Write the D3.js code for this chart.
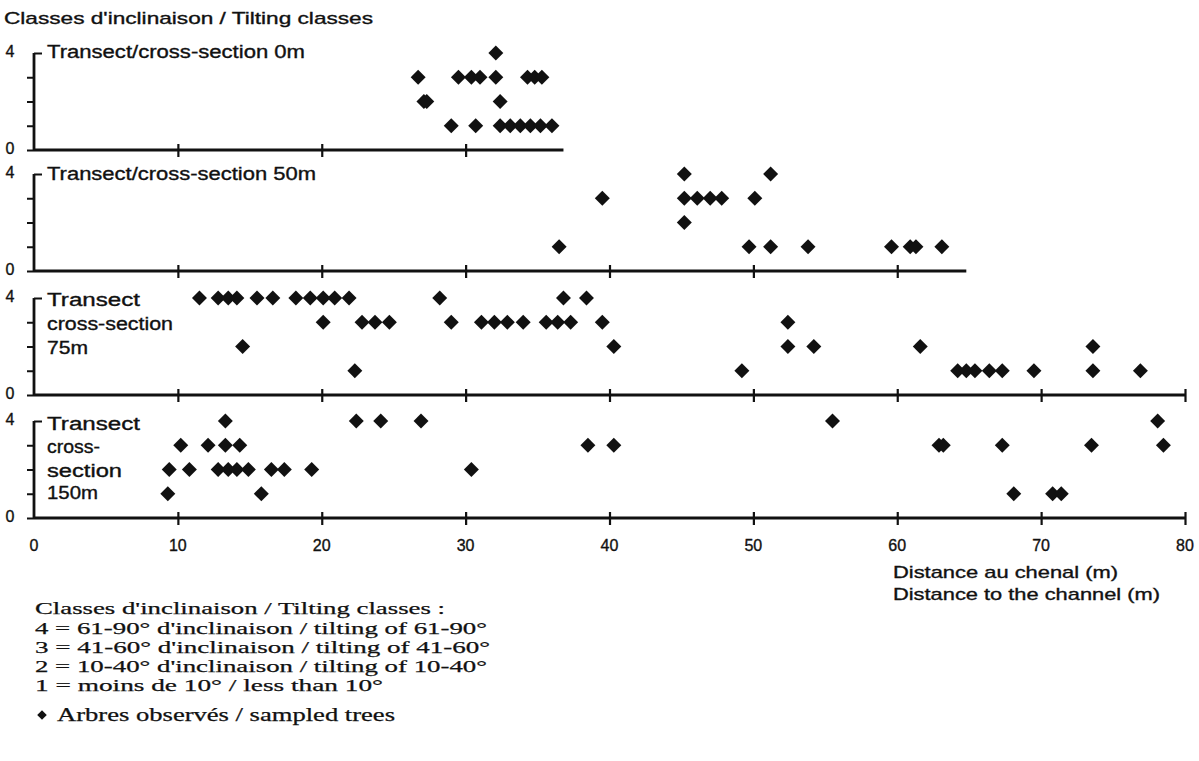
<!DOCTYPE html>
<html>
<head>
<meta charset="utf-8">
<script src="https://cdn.jsdelivr.net/npm/d3@7/dist/d3.min.js"></script>
<style>
body { margin: 0; background: #fff; }
text { fill: #111; }
.sans { font-family: "Liberation Sans", Arial, sans-serif; stroke: #111; stroke-width: 0.35px; }
.serif { font-family: "Liberation Serif", "Times New Roman", serif; stroke: #111; stroke-width: 0.25px; }
</style>
</head>
<body>
<svg id="chart" width="1199" height="761"></svg>
<script>
// tick values of the distance axis and the tilting class axis
var xTicks = [0, 10, 20, 30, 40, 50, 60, 70, 80];
var classTicks = [0, 1, 2, 3, 4];

// one label (split on lines) per transect, and where its axis stops (m)
var panelLabels = [
    ["Transect/cross-section 0m"],
    ["Transect/cross-section 50m"],
    ["Transect", "cross-section", "75m"],
    ["Transect", "cross-", "section", "150m"]
];
var axisEnds = [36.8, 64.8, 80, 80];

// sampled trees: [distance to channel (m), tilting class]
var trees0m = [
    [32.1, 4],
    [26.7, 3], [29.5, 3], [30.4, 3], [31.0, 3], [32.1, 3], [34.3, 3], [34.8, 3], [35.3, 3],
    [27.1, 2], [27.3, 2], [32.4, 2],
    [29.0, 1], [30.7, 1], [32.4, 1], [33.1, 1], [33.8, 1], [34.5, 1], [35.2, 1], [36.0, 1]
];
var trees50m = [
    [45.2, 4], [51.2, 4],
    [39.5, 3], [45.2, 3], [46.1, 3], [47.0, 3], [47.8, 3], [50.1, 3],
    [45.2, 2],
    [36.5, 1], [49.7, 1], [51.2, 1], [53.8, 1], [59.6, 1], [60.9, 1], [61.3, 1], [63.1, 1]
];
var trees75m = [
    [11.5, 4], [12.8, 4], [13.5, 4], [14.1, 4], [15.5, 4], [16.6, 4], [18.2, 4], [19.2, 4],
    [20.1, 4], [20.9, 4], [21.9, 4], [28.2, 4], [36.8, 4], [38.4, 4],
    [20.1, 3], [22.8, 3], [23.7, 3], [24.7, 3], [29.0, 3], [31.1, 3], [32.0, 3], [32.9, 3],
    [34.0, 3], [35.6, 3], [36.4, 3], [37.3, 3], [39.5, 3], [52.4, 3],
    [14.5, 2], [40.3, 2], [52.4, 2], [54.2, 2], [61.6, 2], [73.6, 2],
    [22.3, 1], [49.2, 1], [64.2, 1], [64.8, 1], [65.4, 1], [66.4, 1], [67.3, 1], [69.5, 1],
    [73.6, 1], [76.9, 1]
];
var trees150m = [
    [13.3, 4], [22.4, 4], [24.1, 4], [26.9, 4], [55.5, 4], [78.1, 4],
    [10.2, 3], [12.1, 3], [13.3, 3], [14.3, 3], [38.5, 3], [40.3, 3], [62.9, 3], [63.2, 3],
    [67.3, 3], [73.5, 3], [78.5, 3],
    [9.4, 2], [10.8, 2], [12.8, 2], [13.5, 2], [14.1, 2], [14.9, 2], [16.5, 2], [17.4, 2],
    [19.3, 2], [30.4, 2],
    [9.3, 1], [15.8, 1], [68.1, 1], [70.8, 1], [71.4, 1]
];
var panelData = [trees0m, trees50m, trees75m, trees150m];

var legendLines = [
    "Classes d'inclinaison / Tilting classes :",
    "4 = 61-90° d'inclinaison / tilting of 61-90°",
    "3 = 41-60° d'inclinaison  / tilting of 41-60°",
    "2 = 10-40° d'inclinaison  / tilting of 10-40°",
    "1 = moins de 10° / less than 10°"
];

var svg = d3.select("svg#chart");

var x = d3.scaleLinear().domain([0, 80]).range([34, 1185]);

// baseline of every panel, and how tall 4 classes are
var baselines = [150, 271, 395, 518];
var panelHeight = 97;

var diamond = d3.symbol().type(d3.symbolSquare).size(112);

function txt(g, s, px, py, len, cls, size) {
    var t = g.append("text").attr("class", cls)
        .attr("x", px).attr("y", py)
        .style("font-size", size + "px")
        .text(s);
    if (len) t.attr("textLength", len).attr("lengthAdjust", "spacingAndGlyphs");
    return t;
}

svg.append("rect").attr("width", 1199).attr("height", 761).attr("fill", "#fff");

txt(svg, "Classes d'inclinaison / Tilting classes", 4, 24, 369, "sans", 17);

var labelLens = [[258], [269], [93, 126, 41], [93, 53, 75, 51]];
var labelTops = [[58], [180], [306, 330, 354], [430, 453, 477, 499]];

baselines.forEach(function(base, i) {
    var y = d3.scaleLinear().domain([0, 4]).range([base, base - panelHeight]);
    var g = svg.append("g");

    // distance axis, only up to where the transect stops
    g.append("line")
        .attr("x1", x(0)).attr("x2", x(axisEnds[i]))
        .attr("y1", base).attr("y2", base)
        .attr("stroke", "#111").attr("stroke-width", 2.8);

    var ticks = xTicks.filter(function(d) { return d > 0 && d <= axisEnds[i]; });
    var xAxis = d3.axisBottom(x).tickValues(ticks).tickSize(6).tickSizeOuter(0).tickFormat("");
    var xg = g.append("g").attr("transform", "translate(0," + base + ")").call(xAxis);
    xg.select(".domain").remove();
    xg.selectAll(".tick line").attr("y1", -6).attr("y2", 7)
        .attr("stroke", "#111").attr("stroke-width", 2.2);

    // class axis
    var yAxis = d3.axisLeft(y).tickValues(classTicks).tickSize(7).tickSizeOuter(0).tickFormat("");
    var yg = g.append("g").attr("transform", "translate(" + x(0) + ",0)").call(yAxis);
    yg.select(".domain").attr("stroke", "#111").attr("stroke-width", 2.8)
        .attr("d", "M0," + y(0) + "V" + y(4));
    yg.selectAll(".tick line").attr("stroke", "#111").attr("stroke-width", 2)
        .filter(function(d) { return d === 4; }).attr("x2", 8);

    [0, 4].forEach(function(v) {
        txt(g, v, 10, y(v) + 4, null, "sans", 16).attr("text-anchor", "middle");
    });

    panelLabels[i].forEach(function(s, j) {
        txt(g, s, 47, labelTops[i][j], labelLens[i][j], "sans", 18);
    });

    g.selectAll(".tree")
        .data(panelData[i])
        .enter().append("path")
        .attr("class", "tree")
        .attr("d", diamond)
        .attr("fill", "#111")
        .attr("transform", function(d) {
            return "translate(" + x(d[0]) + "," + y(d[1]) + ") rotate(45)";
        });
});

// distance labels under the last transect
svg.append("g").selectAll("text")
    .data(xTicks)
    .enter().append("text")
    .attr("class", "sans")
    .attr("x", function(d) { return x(d); })
    .attr("y", 551)
    .attr("text-anchor", "middle")
    .style("font-size", "16px")
    .text(function(d) { return d; });

txt(svg, "Distance au chenal (m)", 893, 578, 225, "sans", 17);
txt(svg, "Distance to the channel (m)", 893, 600, 267, "sans", 17);

// legend
var legendY = [614, 634, 653, 672, 691];
var legendLens = [410, 452, 455, 452, 348];
legendLines.forEach(function(s, i) {
    txt(svg, s, 35, legendY[i], legendLens[i], "serif", 17);
});
svg.append("path")
    .attr("d", d3.symbol().type(d3.symbolSquare).size(46))
    .attr("fill", "#111")
    .attr("transform", "translate(42,715) rotate(45)");
txt(svg, "Arbres observés / sampled trees", 57, 721, 338, "serif", 18);
</script>
</body>
</html>
